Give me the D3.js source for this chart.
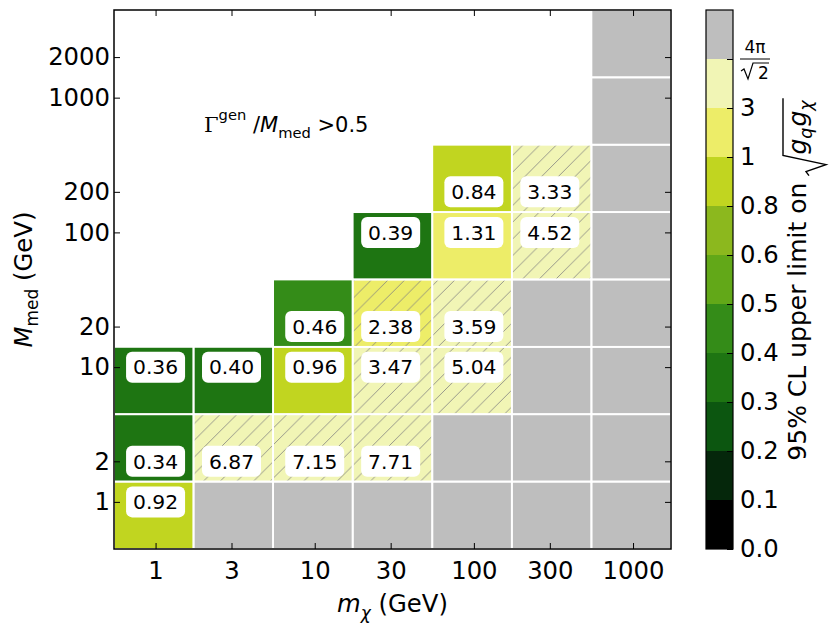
<!DOCTYPE html>
<html>
<head>
<meta charset="utf-8">
<script src="https://cdn.jsdelivr.net/npm/d3@7"></script>
<style>
  body { margin: 0; background: #fff; }
  svg { font-family: "DejaVu Sans", sans-serif; }
</style>
</head>
<body>
<div id="chart"></div>
<script>
// ---- data ----
const OVER = Infinity; // limit above 4pi/sqrt(2), drawn grey without a label

// grid points (GeV)
const mchiPoints = [1, 3, 10, 30, 100, 300, 1000];
const mmedPoints = [1, 2, 10, 20, 100, 200, 1000, 2000];

// cell edges (GeV): geometric means between neighbouring grid points
const mchiEdges = [0.548, 1.732, 5.477, 17.32, 54.77, 173.2, 547.7, 1732];
const mmedEdges = [0.447, 1.414, 4.472, 14.14, 44.72, 141.4, 447.2, 1414, 4472];

// 95% CL upper limits on sqrt(gq*gchi), one list per mediator mass, ordered like mchiPoints
// null = point not generated
const limitMmed1    = [0.92, OVER, OVER, OVER, OVER, OVER, OVER];
const limitMmed2    = [0.34, 6.87, 7.15, 7.71, OVER, OVER, OVER];
const limitMmed10   = [0.36, 0.398, 0.96, 3.47, 5.04, OVER, OVER];
const limitMmed20   = [null, null, 0.46, 2.38, 3.59, OVER, OVER];
const limitMmed100  = [null, null, null, 0.39, 1.31, 4.52, OVER];
const limitMmed200  = [null, null, null, null, 0.84, 3.33, OVER];
const limitMmed1000 = [null, null, null, null, null, null, OVER];
const limitMmed2000 = [null, null, null, null, null, null, OVER];

// points where Gamma_gen / M_med > 0.5 (hatched), as [mchi, mmed]
const wideCells = [[3, 2], [10, 2], [30, 2], [30, 10], [100, 10], [30, 20], [100, 20], [300, 100], [300, 200]];

// colour levels of the colorbar
const cbLevels = [0, 0.1, 0.2, 0.3, 0.4, 0.5, 0.6, 0.8, 1, 3, 4 * Math.PI / Math.SQRT2];
const cbLabels = ["0.0", "0.1", "0.2", "0.3", "0.4", "0.5", "0.6", "0.8", "1", "3"];
const cbColors = ["#000000", "#05270b", "#0c5610", "#1e7512", "#348c18", "#62a818",
                  "#8cb81e", "#c1d520", "#eded68", "#f1f5b5", "#bebebe"];

const rows = [limitMmed1, limitMmed2, limitMmed10, limitMmed20,
              limitMmed100, limitMmed200, limitMmed1000, limitMmed2000];

// ---- layout ----
const width = 831, height = 632;
const margin = { top: 10, right: 160, bottom: 83, left: 114 };
const cbBox = { left: 706, right: 733 };
const fs = 24.3;

const svg = d3.select("#chart").append("svg")
    .attr("width", width)
    .attr("height", height);

const defs = svg.append("defs");
const hp = 16.7;
defs.append("pattern")
    .attr("id", "hatch")
    .attr("patternUnits", "userSpaceOnUse")
    .attr("width", hp).attr("height", hp)
    .append("path")
    .attr("d", `M${-hp / 4},${hp / 4} L${hp / 4},${-hp / 4} M0,${hp} L${hp},0 M${hp * 0.75},${hp * 1.25} L${hp * 1.25},${hp * 0.75}`)
    .attr("stroke", "#808080")
    .attr("stroke-width", 0.8);

const x = d3.scaleLog()
    .domain([mchiEdges[0], mchiEdges[mchiEdges.length - 1]])
    .range([margin.left, width - margin.right]);
const y = d3.scaleLog()
    .domain([mmedEdges[0], mmedEdges[mmedEdges.length - 1]])
    .range([height - margin.bottom, margin.top]);

const color = d3.scaleThreshold()
    .domain(cbLevels.slice(1))
    .range(cbColors);

// flatten the grid
const cells = [];
rows.forEach((row, i) => {
    row.forEach((v, j) => {
        if (v === null) return;
        cells.push({
            i, j, value: v,
            mchi: mchiPoints[j], mmed: mmedPoints[i],
            wide: wideCells.some(c => c[0] === mchiPoints[j] && c[1] === mmedPoints[i])
        });
    });
});

const cellRect = sel => sel
    .attr("x", d => x(mchiEdges[d.j]))
    .attr("y", d => y(mmedEdges[d.i + 1]))
    .attr("width", d => x(mchiEdges[d.j + 1]) - x(mchiEdges[d.j]))
    .attr("height", d => y(mmedEdges[d.i]) - y(mmedEdges[d.i + 1]));

// cells
svg.append("g").selectAll("rect")
    .data(cells)
    .join("rect")
    .call(cellRect)
    .attr("fill", d => color(d.value));

// hatching
svg.append("g").selectAll("rect")
    .data(cells.filter(d => d.wide))
    .join("rect")
    .call(cellRect)
    .attr("fill", "url(#hatch)");

// white cell edges
svg.append("g").selectAll("rect")
    .data(cells)
    .join("rect")
    .call(cellRect)
    .attr("fill", "none")
    .attr("stroke", "#fff")
    .attr("stroke-width", 1.8);

// value labels
const lab = svg.append("g").selectAll("g")
    .data(cells.filter(d => isFinite(d.value)))
    .join("g")
    .attr("transform", d => `translate(${x(d.mchi)},${y(d.mmed)})`);
lab.append("rect")
    .attr("x", -29.5).attr("y", -15.5)
    .attr("width", 59).attr("height", 31)
    .attr("rx", 6)
    .attr("fill", "#fff");
lab.append("text")
    .attr("text-anchor", "middle")
    .attr("dy", "0.36em")
    .attr("font-size", 20.3)
    .text(d => d.value.toFixed(2));

// axes
const styleAxis = g => {
    g.select(".domain").remove();
    g.selectAll(".tick line").attr("stroke", "#000").attr("stroke-width", 1);
    g.selectAll(".tick text").attr("font-size", fs).attr("font-family", "DejaVu Sans").attr("fill", "#000");
};

svg.append("g")
    .attr("transform", `translate(0,${height - margin.bottom})`)
    .call(d3.axisBottom(x).tickValues(mchiPoints).tickFormat(d3.format("d"))
        .tickSizeInner(-6).tickSizeOuter(0).tickPadding(13))
    .call(styleAxis);
svg.append("g")
    .attr("transform", `translate(0,${margin.top})`)
    .call(d3.axisTop(x).tickValues(mchiPoints).tickFormat("")
        .tickSizeInner(-6).tickSizeOuter(0))
    .call(styleAxis);
svg.append("g")
    .attr("transform", `translate(${margin.left},0)`)
    .call(d3.axisLeft(y).tickValues(mmedPoints).tickFormat(d3.format("d"))
        .tickSizeInner(-6).tickSizeOuter(0).tickPadding(4))
    .call(styleAxis);
svg.append("g")
    .attr("transform", `translate(${width - margin.right},0)`)
    .call(d3.axisRight(y).tickValues(mmedPoints).tickFormat("")
        .tickSizeInner(-6).tickSizeOuter(0))
    .call(styleAxis);

// frame
svg.append("rect")
    .attr("x", margin.left).attr("y", margin.top)
    .attr("width", width - margin.left - margin.right)
    .attr("height", height - margin.top - margin.bottom)
    .attr("fill", "none").attr("stroke", "#000").attr("stroke-width", 1.5);

// axis titles
const xTitle = svg.append("text")
    .attr("x", (margin.left + width - margin.right) / 2)
    .attr("y", 612)
    .attr("text-anchor", "middle")
    .attr("font-size", fs);
xTitle.append("tspan").attr("font-style", "italic").text("m");
xTitle.append("tspan").attr("font-style", "italic").attr("font-size", fs * 0.7).attr("dy", 7).text("χ");
xTitle.append("tspan").attr("dy", -7).text(" (GeV)");

const yTitle = svg.append("text")
    .attr("transform", `translate(32,${(margin.top + height - margin.bottom) / 2}) rotate(-90)`)
    .attr("text-anchor", "middle")
    .attr("font-size", fs);
yTitle.append("tspan").attr("font-style", "italic").text("M");
yTitle.append("tspan").attr("font-size", fs * 0.7).attr("dy", 6).text("med");
yTitle.append("tspan").attr("dy", -6).text(" (GeV)");

// annotation
const note = svg.append("text")
    .attr("x", 204).attr("y", 132)
    .attr("font-size", 21);
note.append("tspan").attr("font-family", "DejaVu Serif").text("Γ");
note.append("tspan").attr("font-size", 21 * 0.7).attr("dy", -12).text("gen");
note.append("tspan").attr("dy", 12).text(" /");
note.append("tspan").attr("font-style", "italic").text("M");
note.append("tspan").attr("font-size", 21 * 0.7).attr("dy", 6).text("med");
note.append("tspan").attr("dy", -6).text(" >0.5");

// ---- colorbar ----
const cbY = d3.scaleLinear()
    .domain([0, cbColors.length])
    .range([height - margin.bottom, margin.top]);

svg.append("g").selectAll("rect")
    .data(cbColors)
    .join("rect")
    .attr("x", cbBox.left)
    .attr("y", (d, i) => cbY(i + 1))
    .attr("width", cbBox.right - cbBox.left)
    .attr("height", (d, i) => cbY(i) - cbY(i + 1))
    .attr("fill", d => d);

svg.append("g")
    .attr("transform", `translate(${cbBox.right},0)`)
    .call(d3.axisRight(cbY).tickValues(d3.range(cbLevels.length))
        .tickFormat(i => cbLabels[i] || "")
        .tickSizeInner(-6).tickSizeOuter(0).tickPadding(7))
    .call(styleAxis);

svg.append("rect")
    .attr("x", cbBox.left).attr("y", cbY(cbColors.length))
    .attr("width", cbBox.right - cbBox.left)
    .attr("height", cbY(0) - cbY(cbColors.length))
    .attr("fill", "none").attr("stroke", "#000").attr("stroke-width", 1.2);

// 4pi/sqrt(2) label as a stacked fraction
const fy = cbY(cbLevels.length - 1);
const frac = svg.append("g").attr("transform", `translate(740,${fy})`);
frac.append("text")
    .attr("x", 15).attr("y", -6)
    .attr("text-anchor", "middle")
    .attr("font-size", 17)
    .text("4π");
frac.append("line")
    .attr("x1", 0).attr("x2", 30).attr("y1", 0).attr("y2", 0)
    .attr("stroke", "#000").attr("stroke-width", 1);
frac.append("path")
    .attr("d", "M1,12 L4,10 L8,20 L13,4 L29,4")
    .attr("fill", "none").attr("stroke", "#000").attr("stroke-width", 1.2);
frac.append("text")
    .attr("x", 18).attr("y", 19.5)
    .attr("font-size", 17)
    .text("2");

// colorbar title with a square root
const cbFs = 25;
const cbt = svg.append("g")
    .attr("transform", `translate(806,${(margin.top + height - margin.bottom) / 2}) rotate(-90)`);
const tA = cbt.append("text").attr("font-size", cbFs).text("95% CL upper limit on");
const lenA = tA.node().getComputedTextLength();
const tB = cbt.append("text").attr("font-size", cbFs).attr("font-style", "italic");
tB.append("tspan").text("g");
tB.append("tspan").attr("font-size", cbFs * 0.7).attr("dy", 6).text("q");
tB.append("tspan").attr("dy", -6).attr("dx", 1).text("g");
tB.append("tspan").attr("font-size", cbFs * 0.7).attr("dy", 6).text("χ");
const lenB = tB.node().getComputedTextLength() + 1;
const gap = 7, radW = 20;
const total = lenA + gap + radW + lenB + 3;
const x0 = -total / 2;
tA.attr("x", x0);
const rx = x0 + lenA + gap;
cbt.append("path")
    .attr("d", `M${rx},3 L${rx + 4},0 L${rx + 11},20 L${rx + radW},-23 L${rx + radW + lenB + 3},-23`)
    .attr("fill", "none").attr("stroke", "#000").attr("stroke-width", 1.4);
tB.attr("x", rx + radW + 1);
</script>
</body>
</html>
